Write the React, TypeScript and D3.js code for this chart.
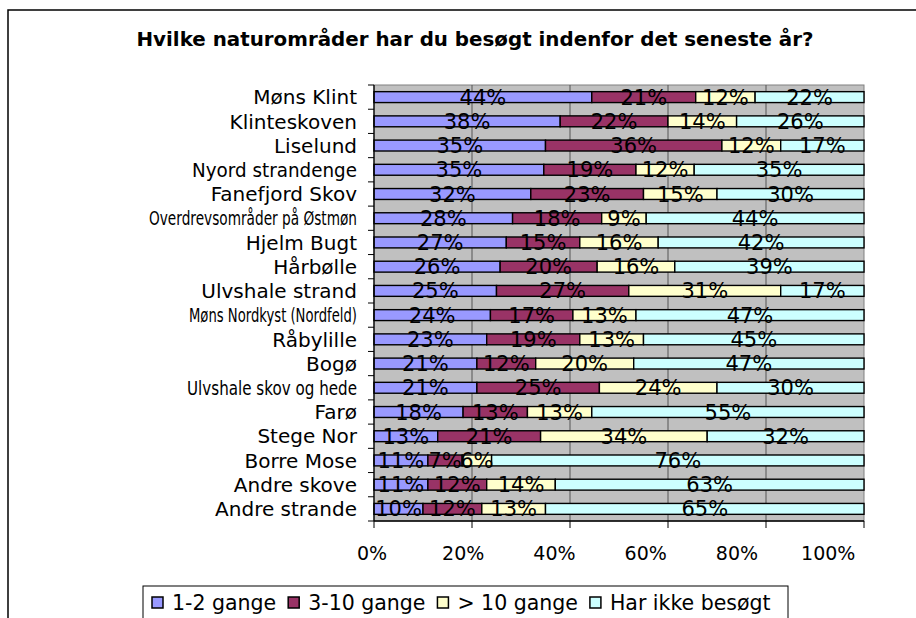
import React from 'react';
import * as d3 from 'd3';

const categories = [
  'Møns Klint', 'Klinteskoven', 'Liselund', 'Nyord strandenge', 'Fanefjord Skov',
  'Overdrevsområder på Østmøn', 'Hjelm Bugt', 'Hårbølle', 'Ulvshale strand',
  'Møns Nordkyst (Nordfeld)', 'Råbylille', 'Bogø', 'Ulvshale skov og hede', 'Farø',
  'Stege Nor', 'Borre Mose', 'Andre skove', 'Andre strande',
];
const seriesNames = ['1-2 gange', '3-10 gange', '> 10 gange', 'Har ikke besøgt'];
const seriesColors = ['#9999ff', '#993366', '#ffffcc', '#ccffff'];

const once = [44, 38, 35, 35, 32, 28, 27, 26, 25, 24, 23, 21, 21, 18, 13, 11, 11, 10];
const few = [21, 22, 36, 19, 23, 18, 15, 20, 27, 17, 19, 12, 25, 13, 21, 7, 12, 12];
const many = [12, 14, 12, 12, 15, 9, 16, 16, 31, 13, 13, 20, 24, 13, 34, 6, 14, 13];
const never = [22, 26, 17, 35, 30, 44, 42, 39, 17, 47, 45, 47, 30, 55, 32, 76, 63, 65];
const xTicks = [0, 0.2, 0.4, 0.6, 0.8, 1];

// the long category labels are squeezed in the original
const squeezed: Record<string, number> = {
  'Nyord strandenge': 165,
  'Overdrevsområder på Østmøn': 208,
  'Møns Nordkyst (Nordfeld)': 168,
  'Ulvshale skov og hede': 170,
};

const W = 916;
const H = 618;
const margin = { top: 85, right: 52, bottom: 97, left: 374 };
const FONT = 'DejaVu Sans, Verdana, sans-serif';

let ctx: CanvasRenderingContext2D | null = null;
function textWidth(t: string, font: string) {
  if (!ctx) ctx = document.createElement('canvas').getContext('2d');
  if (!ctx) return t.length * 10;
  ctx.font = font;
  return ctx.measureText(t).width;
}

export default function App() {
  const keys = ['s0', 's1', 's2', 's3'];
  const rows = categories.map((c, i) => ({ cat: c, s0: once[i], s1: few[i], s2: many[i], s3: never[i] }));
  const stacked = d3.stack<any>().keys(keys).offset(d3.stackOffsetExpand)(rows);

  const x = d3.scaleLinear().domain([0, 1]).range([margin.left, W - margin.right]);
  const y = d3.scaleBand().domain(categories).range([margin.top, H - margin.bottom]).paddingInner(0.55).paddingOuter(0.275);
  const band = d3.scaleBand().domain(categories).range([margin.top, H - margin.bottom]);
  // tick labels in the original are squeezed a bit to the left
  const labelX = d3.scaleLinear().domain([0, 1]).range([x(0) - 2, x(0.927)]);

  const plotBottom = H - margin.bottom;

  // legend layout
  const legendFont = `20.5px ${FONT}`;
  let lx = 152;
  const legendItems = seriesNames.map((name, i) => {
    const item = { name, color: seriesColors[i], x: lx };
    lx += 20 + textWidth(name, legendFont) + 12;
    return item;
  });

  return (
    <svg width={W} height={H} style={{ position: 'absolute', left: 0, top: 0 }} fontFamily={FONT}>
      <rect width={W} height={H} fill="#fff" />
      <path d={`M8,${H}V10H${W}`} fill="none" stroke="#000" strokeWidth={1.5} />
      <text x={475} y={46} textAnchor="middle" fontWeight="bold" fontSize={19} textLength={677} lengthAdjust="spacingAndGlyphs">
        Hvilke naturområder har du besøgt indenfor det seneste år?
      </text>

      {/* plot area */}
      <rect x={x(0)} y={margin.top} width={x(1) - x(0)} height={plotBottom - margin.top} fill="#c0c0c0" stroke="#808080" />
      {xTicks.slice(1, -1).map(t => (
        <line key={t} x1={x(t)} x2={x(t)} y1={margin.top} y2={plotBottom} stroke="#555" strokeWidth={1} />
      ))}

      {stacked.map((layer, si) => (
        <g key={si} fill={seriesColors[si]} stroke="#000" strokeWidth={1.4}>
          {layer.map((d: any) => (
            <rect key={d.data.cat} x={x(d[0])} y={y(d.data.cat)!} width={x(d[1]) - x(d[0])} height={y.bandwidth()} />
          ))}
        </g>
      ))}

      {stacked.map((layer, si) => (
        <g key={'l' + si} fontSize={21} fill="#000" textAnchor="middle">
          {layer.map((d: any) => (
            <text key={d.data.cat} x={(x(d[0]) + x(d[1])) / 2} y={y(d.data.cat)! + y.bandwidth() / 2} dy="0.36em">
              {d.data[keys[si]]}%
            </text>
          ))}
        </g>
      ))}

      {/* axes */}
      <line x1={x(0)} x2={x(0)} y1={margin.top} y2={plotBottom} stroke="#000" strokeWidth={1.3} />
      <line x1={x(0)} x2={x(1)} y1={plotBottom} y2={plotBottom} stroke="#000" strokeWidth={1.3} />
      {categories.map(c => (
        <line key={c} x1={x(0) - 6} x2={x(0)} y1={band(c)!} y2={band(c)!} stroke="#000" />
      ))}
      <line x1={x(0) - 6} x2={x(0)} y1={plotBottom} y2={plotBottom} stroke="#000" />
      {categories.map(c => (
        <text key={c} x={x(0) - 17} y={band(c)! + band.bandwidth() / 2} dy="0.36em" textAnchor="end" fontSize={20}
          textLength={squeezed[c]} lengthAdjust={squeezed[c] ? 'spacingAndGlyphs' : undefined}>
          {c}
        </text>
      ))}
      {xTicks.map(t => (
        <g key={t}>
          <line x1={x(t)} x2={x(t)} y1={plotBottom} y2={plotBottom + 7} stroke="#000" />
          <text x={labelX(t)} y={560} textAnchor="middle" fontSize={19}>
            {Math.round(t * 100)}%
          </text>
        </g>
      ))}

      {/* legend */}
      <rect x={143} y={586} width={645} height={40} fill="#fff" stroke="#000" />
      {legendItems.map(it => (
        <g key={it.name}>
          <rect x={it.x} y={597} width={11} height={11} fill={it.color} stroke="#000" strokeWidth={1.5} />
          <text x={it.x + 20} y={610} fontSize={20.5}>{it.name}</text>
        </g>
      ))}
    </svg>
  );
}
